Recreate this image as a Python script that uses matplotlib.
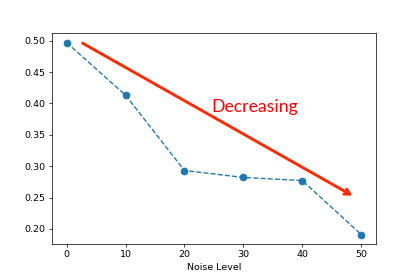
import matplotlib
matplotlib.use('Agg')
import matplotlib.pyplot as plt

# datos
noise_level = [0, 10, 20, 30, 40, 50]
valores = [0.497, 0.413, 0.293, 0.282, 0.277, 0.191]

# flecha de tendencia (inicio y fin en coordenadas de datos)
flecha_inicio = (2.7, 0.496)
flecha_fin = (48.5, 0.253)
texto = 'Decreasing'
texto_pos = (24.6, 0.3865)

plt.rcParams['font.size'] = 10.5

dpi = 65
fig = plt.figure(figsize=(415 / dpi, 279 / dpi), dpi=dpi)
ax = fig.add_axes([0.125, 0.125, 0.781, 0.757])

ax.plot(noise_level, valores, 'o--', color='#1f77b4', markersize=7.5)
ax.set_xlabel('Noise Level')

ax.annotate('', xy=flecha_fin, xytext=flecha_inicio,
            arrowprops=dict(arrowstyle='->, head_length=0.55, head_width=0.3',
                            color='#ff2a00', lw=3.2, shrinkA=0, shrinkB=0))
ax.text(texto_pos[0], texto_pos[1], texto, color='red', fontsize=19.5,
        family=['Lato', 'DejaVu Sans'], va='baseline')

plt.savefig('out.png', dpi=dpi)
